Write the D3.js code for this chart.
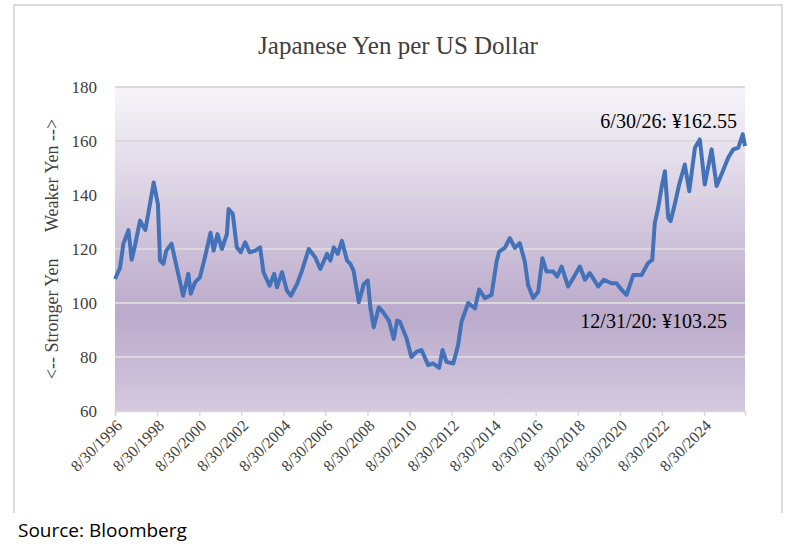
<!DOCTYPE html>
<html><head><meta charset="utf-8">
<script src="https://cdn.jsdelivr.net/npm/d3@7"></script>
<style>body{margin:0;background:#fff}</style>
</head><body>
<svg id="chart" width="794" height="555"></svg>
<script>
// decimal years and yen per dollar
const years = [1996.66,1996.9,1997.06,1997.3,1997.45,1997.6,1997.85,1998.1,1998.25,1998.5,1998.7,1998.8,1998.96,1999.1,1999.35,1999.6,1999.9,2000.15,2000.26,2000.47,2000.7,2000.9,2001.2,2001.35,2001.53,2001.74,2001.98,2002.06,2002.26,2002.45,2002.64,2002.85,2003.06,2003.33,2003.56,2003.72,2004.01,2004.23,2004.36,2004.6,2004.83,2005.02,2005.31,2005.55,2005.87,2006.18,2006.42,2006.74,2006.9,2007.06,2007.25,2007.45,2007.69,2007.85,2008.0,2008.25,2008.49,2008.68,2008.8,2008.96,2009.2,2009.4,2009.68,2009.91,2010.07,
  2010.2,2010.52,2010.75,2011.0,2011.23,2011.55,2011.78,2012.07,2012.23,2012.42,2012.74,2012.97,2013.13,2013.45,2013.77,2013.97,2014.24,2014.56,2014.8,2014.92,2015.19,2015.43,2015.67,2015.9,2016.14,2016.3,2016.54,2016.78,2016.98,2017.17,2017.49,2017.68,2017.89,2018.2,2018.44,2018.76,2019.0,2019.23,2019.63,2019.9,2020.26,2020.5,2020.74,2020.98,2021.3,2021.69,2022.0,2022.2,2022.32,2022.48,2022.64,2022.8,2022.96,2023.07,2023.27,2023.48,2023.75,2023.96,2024.23,2024.46,2024.7,2025.02,2025.26,2025.49,2025.81,2026.05,2026.29,2026.5,2026.61];
const yen = [108.9,113,122,127,116,121,130.5,127,133.5,144.6,136.6,115.7,114.5,119.4,122,113,102.7,110.8,103.4,107.7,109.5,115.7,126,119.4,125.5,120,125.5,134.8,133,120.6,118.8,122.5,118.8,119.4,120.6,111.4,106.4,110.8,105.8,111.4,104.6,102.7,107,112,120,116.9,112.6,118.2,115.7,120.6,118.2,123,115.7,114.5,112,100.3,107,108.3,98.4,91,98.4,96.6,93.5,86.7,93.5,
  93.1,86.9,80,82,82.6,77,77.6,76,82.6,78.2,77.6,84.4,93,100,98,105,101.8,103,115.4,119,120.4,124,120.4,122.2,115.4,106.7,101.8,104.2,116.6,111.7,111.7,109.8,113.5,106.1,109.2,113.5,108.6,111.1,106.1,108.6,107.3,107.3,104.9,103,110.4,110.4,114.8,116,129.6,135.2,142.6,148.8,131.5,130.3,136.5,143.9,151.3,141.4,157.5,160.6,143.9,156.9,143.3,147.6,153.8,156.9,157.5,162.5,158.1];
const yTicks = [60,80,100,120,140,160,180];
const tickYears = d3.range(1996, 2025, 2);

const toDate = y => { const yr = Math.floor(y); return new Date(yr, 0, 1 + (y - yr) * 365.25); };
const data = years.map((y, i) => ({date: toDate(y), v: yen[i]}));

const svg = d3.select("#chart");
const L = 115, R = 745, T = 87, B = 411;
const x = d3.scaleTime().domain([toDate(1996.66), toDate(2026.61)]).range([L, R]);
const y = d3.scaleLinear().domain([60, 180]).range([B, T]);

// frame
svg.append("path").attr("d", "M14,513V5H782V513").attr("fill", "none").attr("stroke", "#cfcfcf").attr("stroke-width", 1.5);

const grad = svg.append("defs").append("linearGradient").attr("id", "bg").attr("x1", 0).attr("y1", 0).attr("x2", 0).attr("y2", 1);
grad.append("stop").attr("offset", "0%").attr("stop-color", "#f7f5f9");
grad.append("stop").attr("offset", "70%").attr("stop-color", "#bbaacb");
grad.append("stop").attr("offset", "100%").attr("stop-color", "#d4cadf");
svg.append("rect").attr("x", L).attr("y", T).attr("width", R - L).attr("height", B - T).attr("fill", "url(#bg)");

svg.append("g").selectAll("line").data(yTicks.slice(1)).join("line")
  .attr("x1", L).attr("x2", R).attr("y1", d => y(d)).attr("y2", d => y(d))
  .attr("stroke", "#d9d9d9").attr("stroke-width", 2);

const font = "'Liberation Serif', serif";
svg.append("g").selectAll("text").data(yTicks).join("text")
  .attr("x", 97).attr("y", d => y(d) + 6).attr("text-anchor", "end")
  .attr("font-family", font).attr("font-size", 17).attr("fill", "#404040").text(d => d);

const xAxis = svg.append("g").attr("transform", `translate(0,${B})`)
  .call(d3.axisBottom(x).tickValues(tickYears.map(t => new Date(t, 7, 30)))
    .tickFormat(d3.timeFormat("%-m/%-d/%Y")).tickSizeOuter(0).tickSize(5));
xAxis.select(".domain").attr("stroke", "#d9d9d9").attr("stroke-width", 1.5);
xAxis.selectAll(".tick line").attr("stroke", "#d9d9d9").attr("stroke-width", 1.5);
xAxis.selectAll(".tick text")
  .attr("font-family", font).attr("font-size", 16).attr("fill", "#404040")
  .attr("text-anchor", "end").attr("dy", 0).attr("dx", 0)
  .attr("transform", "translate(2,10) rotate(-45)");

svg.append("path").datum(data)
  .attr("fill", "none").attr("stroke", "#4472b8").attr("stroke-width", 4).attr("stroke-linejoin", "round")
  .attr("d", d3.line().x(d => x(d.date)).y(d => y(d.v)));

svg.append("text").attr("x", 398).attr("y", 54).attr("text-anchor", "middle")
  .attr("font-family", font).attr("font-size", 25).attr("fill", "#404040").text("Japanese Yen per US Dollar");

svg.append("text").attr("transform", "translate(58,249) rotate(-90)").attr("text-anchor", "middle")
  .attr("font-family", font).attr("font-size", 18).attr("fill", "#404040").attr("xml:space", "preserve")
  .text("<-- Stronger Yen      Weaker Yen -->");

svg.append("text").attr("x", 737).attr("y", 128).attr("text-anchor", "end")
  .attr("font-family", font).attr("font-size", 20).attr("fill", "#000").text("6/30/26: ¥162.55");
svg.append("text").attr("x", 727).attr("y", 328).attr("text-anchor", "end")
  .attr("font-family", font).attr("font-size", 20).attr("fill", "#000").text("12/31/20: ¥103.25");

svg.append("text").attr("x", 18).attr("y", 537)
  .attr("font-family", "'Open Sans', sans-serif").attr("font-size", 19).attr("fill", "#000").text("Source: Bloomberg");
</script>
</body></html>
